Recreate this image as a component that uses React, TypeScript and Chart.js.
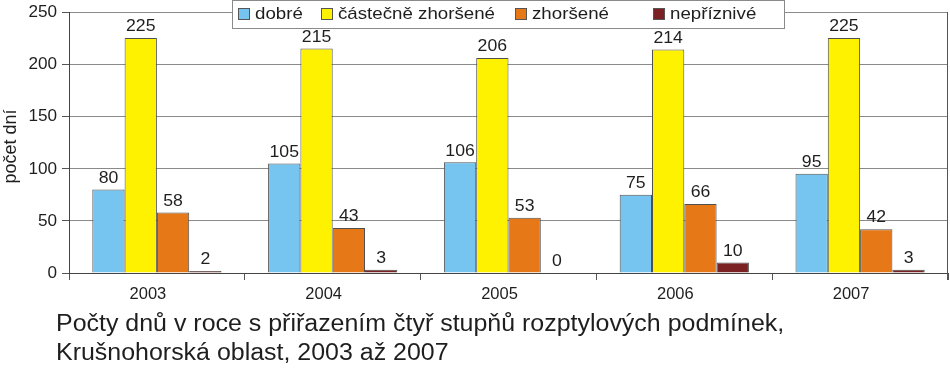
import React, { useEffect, useRef } from "react";
import { Chart, registerables } from "chart.js";

Chart.register(...registerables);

const categories = ["2003", "2004", "2005", "2006", "2007"];
const dobre = [80, 105, 106, 75, 95];
const castecneZhorsene = [225, 215, 206, 214, 225];
const zhorsene = [58, 43, 53, 66, 42];
const nepriznive = [2, 3, 0, 10, 3];

const seriesNames = ["dobré", "částečně zhoršené", "zhoršené", "nepříznivé"];
const seriesColors = ["#75C5F0", "#FFF200", "#E67817", "#7B2123"];
const titleLines = [
  "Počty dnů v roce s přiřazením čtyř stupňů rozptylových podmínek,",
  "Krušnohorská oblast, 2003 až 2007",
];
const yAxisTitle = "počet dní";
const yTicks = [0, 50, 100, 150, 200, 250];

const FONT = "'Liberation Sans', Arial, sans-serif";
const TEXT = "#1e1e1e";
const SX = 1.07;
const legendSquares = [238, 321, 515, 653];

function txt(ctx: any, s: string, x: number, y: number, align: string, base: string, size: number, sx = SX) {
  ctx.save();
  ctx.translate(x, y);
  ctx.scale(sx, 1);
  ctx.font = `${size}px ${FONT}`;
  ctx.fillStyle = TEXT;
  ctx.textAlign = align;
  ctx.textBaseline = base;
  ctx.fillText(s, 0, 0);
  ctx.restore();
}

const labelsPlugin = {
  id: "valueLabels",
  afterDatasetsDraw(chart: any) {
    const ctx = chart.ctx;
    chart.data.datasets.forEach((ds: any, i: number) => {
      const meta = chart.getDatasetMeta(i);
      meta.data.forEach((el: any, j: number) => {
        txt(ctx, String(ds.data[j]), el.x, el.y - 3, "center", "bottom", 16.5);
      });
    });
  },
};

const decorPlugin = {
  id: "decor",
  afterDraw(chart: any) {
    const ctx = chart.ctx;
    const area = chart.chartArea;
    const xs = chart.scales.x;
    const ys = chart.scales.y;
    ctx.save();
    ctx.strokeStyle = "#555";
    ctx.lineWidth = 1;
    ctx.beginPath();
    ctx.moveTo(Math.round(area.right) - 0.5, area.top);
    ctx.lineTo(Math.round(area.right) - 0.5, area.bottom + 7);
    ctx.stroke();
    ctx.restore();

    yTicks.forEach((v) => {
      txt(ctx, String(v), 57, ys.getPixelForValue(v) + 0.5, "right", "middle", 16);
    });
    categories.forEach((c, i) => {
      txt(ctx, c, xs.getPixelForValue(i) - 9, 294.5, "center", "middle", 16, 1.03);
    });
    ctx.save();
    ctx.translate(11, (area.top + area.bottom) / 2 + 4);
    ctx.rotate(-Math.PI / 2);
    txt(ctx, yAxisTitle, 0, 0, "center", "middle", 18, 1.0);
    ctx.restore();

    ctx.save();
    const lx = 232, ly = 0, lw = 552, lh = 29;
    ctx.fillStyle = "#ffffff";
    ctx.fillRect(lx, ly, lw, lh);
    ctx.strokeStyle = "#8a8a8a";
    ctx.lineWidth = 1;
    ctx.strokeRect(lx + 0.5, ly + 0.5, lw, lh - 1);
    legendSquares.forEach((x, i) => {
      ctx.fillStyle = seriesColors[i];
      ctx.fillRect(x, 8, 12, 12);
      ctx.strokeStyle = "#555";
      ctx.strokeRect(x + 0.5, 8.5, 11, 11);
    });
    ctx.restore();
    seriesNames.forEach((name, i) => {
      txt(ctx, name, legendSquares[i] + 17, 14.5, "left", "middle", 17, 1.1);
    });

    txt(ctx, titleLines[0], 56, 331, "left", "alphabetic", 23, 1.085);
    txt(ctx, titleLines[1], 56, 360, "left", "alphabetic", 23, 1.085);
  },
};

export default function App() {
  const ref = useRef<HTMLCanvasElement | null>(null);
  useEffect(() => {
    document.body.style.margin = "0";
    if (!ref.current) return;
    const mk = (i: number, data: number[]) => ({
      label: seriesNames[i],
      data,
      backgroundColor: seriesColors[i],
      borderColor: "#505050",
      borderWidth: 1,
      barPercentage: 1,
      categoryPercentage: 0.735,
    });
    const chart = new Chart(ref.current, {
      type: "bar",
      data: {
        labels: categories,
        datasets: [
          mk(0, dobre),
          mk(1, castecneZhorsene),
          mk(2, zhorsene),
          mk(3, nepriznive),
        ],
      },
      options: {
        responsive: false,
        animation: false,
        devicePixelRatio: 1,
        layout: { padding: { top: 12, right: 2, left: 0, bottom: 0 } },
        plugins: {
          legend: { display: false },
          title: { display: false },
          tooltip: { enabled: false },
        },
        scales: {
          x: {
            afterFit: (s: any) => {
              s.height = 100;
            },
            grid: {
              offset: true,
              drawOnChartArea: false,
              tickLength: 7,
              color: "#555",
              tickColor: "#555",
            },
            border: { color: "#444" },
            ticks: { display: false },
          },
          y: {
            min: 0,
            max: 250,
            afterFit: (s: any) => {
              s.width = 69;
            },
            afterBuildTicks: (s: any) => {
              s.ticks = yTicks.map((v) => ({ value: v }));
            },
            grid: {
              color: "#8a8a8a",
              tickColor: "#555",
              tickLength: 7,
            },
            border: { color: "#444" },
            ticks: { display: false },
          },
        },
      },
      plugins: [labelsPlugin, decorPlugin],
    });
    return () => chart.destroy();
  }, []);
  return (
    <div style={{ width: 950, height: 373, position: "relative" }}>
      <canvas ref={ref} width={950} height={373} style={{ width: 950, height: 373, display: "block" }} />
    </div>
  );
}
